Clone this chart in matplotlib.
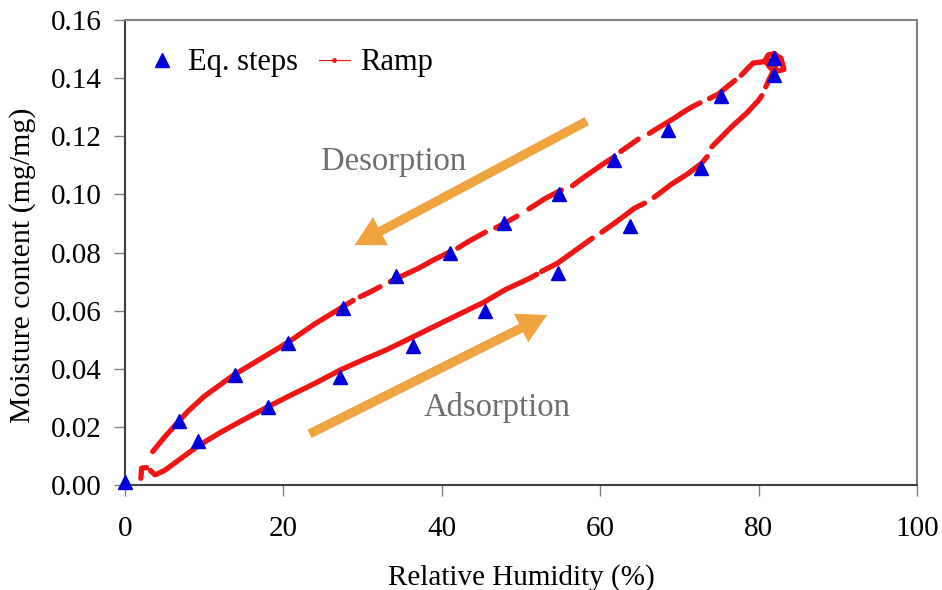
import numpy as np
import matplotlib
matplotlib.use("Agg")
import matplotlib.pyplot as plt
from matplotlib.lines import Line2D

nan = np.nan

# Equilibrium step measurements
eq_rh = [0.0, 6.8, 9.2, 13.9, 18.1, 20.6, 27.2, 27.5, 34.2, 36.3, 41.0,
         45.4, 47.8, 54.7, 54.8, 61.8, 63.7, 68.6, 72.7, 75.3, 82.0, 81.9]
eq_mc = [0.001, 0.022, 0.015, 0.038, 0.027, 0.049, 0.037, 0.061, 0.072, 0.048, 0.080,
         0.060, 0.090, 0.073, 0.100, 0.112, 0.089, 0.122, 0.109, 0.134, 0.147, 0.141]

# Ramp: adsorption branch then desorption branch (NaN = gaps in record)
ramp_rh = [2.0, 2.1, 2.7, nan,
           3.2, 3.8, 5.0, 7.0, 9.1, 12.0, 15.0, 18.1, 21.0, 24.0, 27.2, 30.0, 33.0,
           36.1, 39.0, 42.0, 45.4, 48.0, 51.0, 52.0, nan,
           52.6, 54.6, 57.0, 59.0, nan,
           60.2, 62.0, 64.3, 65.6, nan,
           66.8, 69.0, 71.0, 72.8, 73.5, nan,
           74.1, 76.6, 78.5, 80.0, 80.4, nan,
           80.9, 81.4, 82.3, 82.8, 82.9, 83.2, 82.5, 81.5, 80.8, 81.2, 82.0, 82.6,
           81.5, 80.2, 79.3, 78.5, 77.8, nan,
           77.0, 76.0, 74.9, 73.8, nan,
           72.6, 71.5, 70.3, 69.5, 68.6, 67.5, 66.2, nan,
           64.8, 63.5, 62.6, nan,
           61.8, 60.0, 58.0, 56.5, nan,
           55.1, 53.0, 51.0, nan,
           49.5, 47.9, 46.8, nan,
           45.5, 43.5, 42.0, nan,
           41.1, 39.0, 37.0, 34.8, 33.5, nan,
           32.2, 30.5, 29.7, nan,
           28.8, 27.2, 24.0, 20.7, 17.0, 13.7, 10.0, 8.0, 6.75, 5.0, 3.5]
ramp_mc = [0.0023, 0.0058, 0.0060, nan,
           0.0050, 0.0035, 0.0050, 0.0090, 0.0132, 0.0180, 0.0225, 0.0270, 0.0310, 0.0350, 0.0396, 0.0430, 0.0465,
           0.0506, 0.0545, 0.0585, 0.0630, 0.0672, 0.0710, 0.0725, nan,
           0.0735, 0.0763, 0.0810, 0.0849, nan,
           0.0870, 0.0905, 0.0952, 0.0970, nan,
           0.0990, 0.1035, 0.1070, 0.1107, 0.1130, nan,
           0.1164, 0.1233, 0.1280, 0.1324, 0.1340, nan,
           0.1370, 0.1400, 0.1450, 0.1470, 0.1460, 0.1430, 0.1425, 0.1435, 0.1460, 0.1480, 0.1485, 0.1470,
           0.1460, 0.1455, 0.1452, 0.1430, 0.1410, nan,
           0.1392, 0.1370, 0.1345, 0.1330, nan,
           0.1315, 0.1300, 0.1280, 0.1265, 0.1250, 0.1232, 0.1210, nan,
           0.1190, 0.1165, 0.1148, nan,
           0.1130, 0.1098, 0.1060, 0.1030, nan,
           0.1015, 0.0985, 0.0950, nan,
           0.0925, 0.0900, 0.0885, nan,
           0.0870, 0.0840, 0.0815, nan,
           0.0803, 0.0775, 0.0745, 0.0717, 0.0700, nan,
           0.0682, 0.0658, 0.0648, nan,
           0.0635, 0.0608, 0.0555, 0.0493, 0.0432, 0.0378, 0.0305, 0.0255, 0.0218, 0.0165, 0.0115]

x_ticks = [0, 20, 40, 60, 80, 100]
y_ticks = [0.00, 0.02, 0.04, 0.06, 0.08, 0.10, 0.12, 0.14, 0.16]

plt.rcParams['font.family'] = ['Liberation Serif', 'DejaVu Serif']

fig = plt.figure(figsize=(9.42, 5.90), dpi=100)
ax = fig.add_axes([0.1327, 0.178, 0.8408, 0.788])

red = '#F01414'
ax.plot(ramp_rh, ramp_mc, color=red, lw=3.8, solid_capstyle='round', zorder=2)
ax.plot(eq_rh, eq_mc, linestyle='none', marker='^', markersize=10,
        color='#0000DD', markeredgecolor='#0000DD', zorder=3, clip_on=False)

ax.set_xlim(0, 100)
ax.set_ylim(0, 0.16)
ax.set_xticks(x_ticks)
ax.set_xticklabels([str(v) for v in x_ticks])
ax.set_yticks(y_ticks)
ax.set_yticklabels([f"{v:.2f}" for v in y_ticks])
ax.tick_params(axis='both', direction='out', length=8, width=1, color='#808080',
               labelsize=21, pad=9)
ax.tick_params(axis='x', pad=14)
for s in ['top', 'right']:
    ax.spines[s].set_color('#808080')
    ax.spines[s].set_linewidth(1.5)
for s in ['left', 'bottom']:
    ax.spines[s].set_color('#404040')
    ax.spines[s].set_linewidth(1.5)

ax.set_xlabel('Relative Humidity (%)', fontsize=21, labelpad=16)
ax.set_ylabel('Moisture content (mg/mg)', fontsize=21.5)
ax.yaxis.set_label_coords(-0.112, 0.472)

# Arrows and annotations
orange = '#F0A440'
ax.annotate('', xy=(29.0, 0.0826), xytext=(58.3, 0.1252),
            arrowprops=dict(arrowstyle='simple,head_width=1.15,head_length=1.05,tail_width=0.33',
                            mutation_scale=20, color=orange, lw=0, shrinkA=0, shrinkB=0))
ax.annotate('', xy=(53.3, 0.0585), xytext=(23.3, 0.0176),
            arrowprops=dict(arrowstyle='simple,head_width=1.15,head_length=1.05,tail_width=0.33',
                            mutation_scale=20, color=orange, lw=0, shrinkA=0, shrinkB=0))
ax.text(33.9, 0.1112, 'Desorption', fontsize=23.5, color='#6E6E6E', ha='center', va='center')
ax.text(47.0, 0.0268, 'Adsorption', fontsize=23.5, color='#6E6E6E', ha='center', va='center')

handles = [Line2D([], [], linestyle='none', marker='^', markersize=10, color='#0000DD'),
           Line2D([], [], color=red, lw=0.8, marker='o', markersize=2.5)]
ax.legend(handles, ['Eq. steps', 'Ramp'], loc='upper left', ncol=2, frameon=False,
          fontsize=22, handlelength=1.0, handletextpad=0.35, columnspacing=0.7,
          bbox_to_anchor=(0.0, 0.985), borderaxespad=0.3)

fig.savefig('out.png', dpi=100)
